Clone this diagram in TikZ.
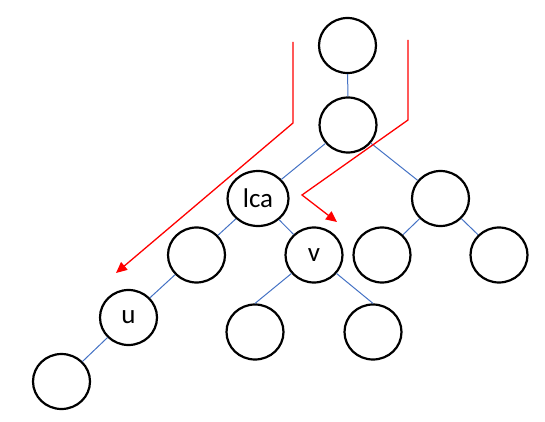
\documentclass[tikz,border=0pt]{standalone}
\usepackage{fontspec}
\setmainfont{Carlito}
\usetikzlibrary{shapes.geometric,arrows.meta}
\definecolor{edgeblue}{HTML}{4472C4}

\begin{document}
\begin{tikzpicture}[x=1pt,y=-1pt,
	vtx/.style={ellipse,draw,line width=2.2pt,minimum width=57pt,minimum height=55pt,inner sep=0pt,font=\fontsize{27}{30}\selectfont},
	tedge/.style={color=edgeblue,line width=1pt},
	walk/.style={color=red,line width=1.3pt,-{Triangle[length=11pt,width=10pt]}}]
			\useasboundingbox (0,0) rectangle (545,422);
			\node[vtx] (root) at (347.5,45.5) {};
			\node[vtx] (top) at (348,125) {};
			\node[vtx,minimum width=61pt] (lca) at (258,198.5) {lca};
			\node[vtx] (rt) at (440.5,198.5) {};
			\node[vtx] (ll) at (196.5,255) {};
			\node[vtx] (v) at (314,255) {v};
			\node[vtx] (rl) at (382,255) {};
			\node[vtx] (rr) at (499,255) {};
			\node[vtx] (u) at (128.5,317.5) {u};
			\node[vtx] (vl) at (255,332) {};
			\node[vtx] (vr) at (373,332) {};
			\node[vtx] (leaf) at (61.5,381.5) {};
			\draw [tedge] (root) -- (top);
			\draw [tedge] (top) -- (lca);
			\draw [tedge] (top) -- (rt);
			\draw [tedge] (lca) -- (ll);
			\draw [tedge] (lca) -- (v);
			\draw [tedge] (rt) -- (rl);
			\draw [tedge] (rt) -- (rr);
			\draw [tedge] (ll) -- (u);
			\draw [tedge] (u) -- (leaf);
			\draw [tedge] (v) -- (vl.north);
			\draw [tedge] (v) -- (vr.north);
			\coordinate (s1) at (293,42);
			\coordinate (k1) at (293,123);
			\coordinate (e1) at (116,273);
			\coordinate (s2) at (408,40);
			\coordinate (k2) at (408,120);
			\coordinate (b2) at (302,195);
			\coordinate (e2) at (337,222);
			\draw [walk] (s1) -- (k1) -- (e1);
			\draw [walk] (s2) -- (k2) -- (b2) -- (e2);
\end{tikzpicture}
\end{document}
